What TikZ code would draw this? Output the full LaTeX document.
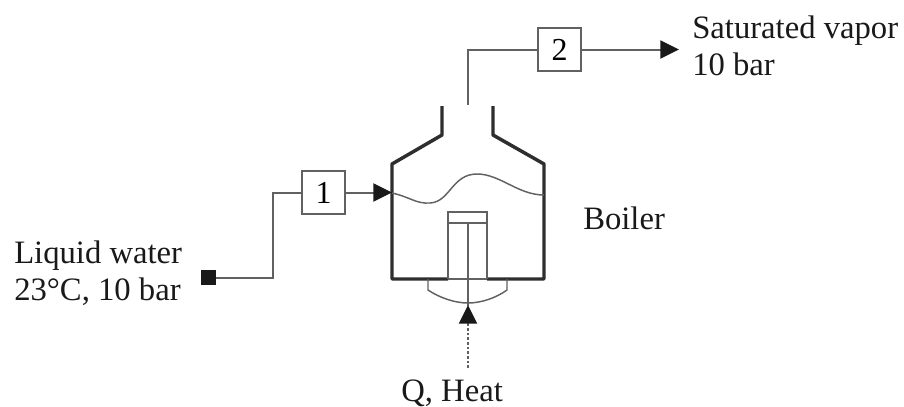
\documentclass[tikz,border=0pt]{standalone}
\usepackage{fontspec}
\setmainfont{Liberation Serif}
\usetikzlibrary{arrows.meta}
\definecolor{thinc}{gray}{0.38}
\definecolor{thickc}{gray}{0.18}
\tikzset{
  x=0.75pt,y=-0.75pt,
  wall/.style={draw=thickc,line width=2.6pt,line join=round},
  thinl/.style={draw=thinc,line width=1.1pt},
  pipe/.style={draw=thinc,line width=1.5pt},
  statebox/.style={draw=thinc,line width=1.5pt,fill=white,minimum size=32pt,inner sep=0pt,font=\fontsize{24}{28}\selectfont},
  lab/.style={anchor=base west,inner sep=0pt,font=\fontsize{24.5}{28}\selectfont,text=black!90},
  tip/.style={-{Triangle[length=14pt,width=13.5pt,color=black!90]}},
}
\begin{document}
\begin{tikzpicture}
\useasboundingbox (0,0) rectangle (904,407);
% boiler
\draw[thinl] (448,279) -- (487,279);
\draw[wall] (442,106) -- (442,135) -- (392,164) -- (392,279) -- (448,279);
\draw[wall] (493,106) -- (493,135) -- (544,164) -- (544,279) -- (487,279);
\draw[thinl] (392,193) .. controls (410,197) and (416,204) .. (430,203)
  .. controls (450,202) and (452,174) .. (477,174)
  .. controls (500,174) and (518,195) .. (544,195);
\draw[thinl] (448,279) |- (487,212) -- (487,279);
\draw[thinl] (448,223) -- (487,223);
\draw[thinl] (428,279) -- (428,290) .. controls (440,298) and (455,303) .. (468,303)
  .. controls (481,303) and (496,298) .. (507,290) -- (507,279);
\draw[thinl] (468,223) -- (468,306);
% nodes
\node[statebox] (s1) at (323.5,192.5) {1};
\node[statebox] (s2) at (559.5,49.5) {2};
\node[fill=black!90,minimum size=11pt,inner sep=0pt] (src) at (208.5,277.5) {};
\coordinate (inlet) at (392,192.5);
\coordinate (nozzle) at (468,105);
\coordinate (out) at (679,49.5);
\coordinate (heatfrom) at (468,368);
\coordinate (heatto) at (468,305);
% connectors
\draw[pipe] (src.east) -- (273,277.5) |- (s1.west);
\draw[pipe,tip] (s1.east) -- (inlet);
\draw[pipe] (nozzle) |- (s2.west);
\draw[pipe,tip] (s2.east) -- (out);
\draw[pipe,dash pattern=on 2pt off 1.5pt] (heatfrom) -- (468,322);
\draw[pipe,tip] (468,322) -- (heatto);
% labels
\node[lab] (l1) at (692,38) {Saturated vapor};
\node[lab] (l2) at (692,75) {10 bar};
\node[lab] (l3) at (583,229) {Boiler};
\node[lab] (l4) at (14,263) {Liquid water};
\node[lab] (l5) at (14,300) {23°C, 10 bar};
\node[lab] (l6) at (401,401) {Q, Heat};
\end{tikzpicture}
\end{document}
